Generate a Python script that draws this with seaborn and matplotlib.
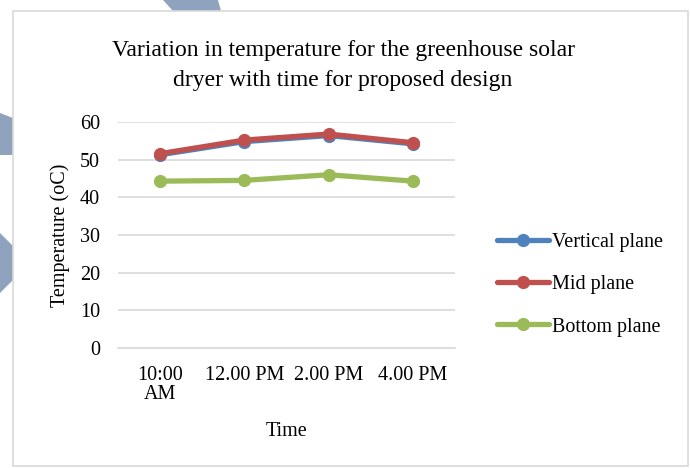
import pandas as pd
import matplotlib.pyplot as plt
import seaborn as sns
from matplotlib.patches import Polygon, Rectangle

# chart values
times = ["10:00\nAM", "12.00 PM", "2.00 PM", "4.00 PM"]
vertical = [51.3, 54.8, 56.4, 54.2]
mid = [51.6, 55.2, 56.8, 54.5]
bottom = [44.3, 44.5, 46.0, 44.3]
series = ["Vertical plane", "Mid plane", "Bottom plane"]
colors = ["#4F81BD", "#C0504D", "#9BBB59"]

df = pd.DataFrame({
    "Time": times * 3,
    "pos": list(range(len(times))) * 3,
    "Temperature": vertical + mid + bottom,
    "Series": [s for s in series for _ in times],
})

sns.set_style("white")
plt.rcParams["font.family"] = ["Liberation Serif", "DejaVu Serif"]
plt.rcParams["text.color"] = "black"
plt.rcParams["axes.labelcolor"] = "black"
plt.rcParams["xtick.color"] = "black"
plt.rcParams["ytick.color"] = "black"

fig = plt.figure(figsize=(6.9, 4.68), dpi=100)

# page decoration behind the chart
W, H = 690, 468
deco = "#8FA3BF"
for pts in ([(163, 0), (218, 0), (221, 11), (173, 11)],
            [(0, 113), (13, 118), (13, 155), (0, 155)],
            [(0, 233), (13, 246), (13, 280), (0, 293)]):
    fig.patches.append(Polygon([(x / W, 1 - y / H) for x, y in pts],
                               closed=True, transform=fig.transFigure,
                               facecolor=deco, edgecolor="none", zorder=0))
fig.patches.append(Rectangle((13 / W, 1 - 466 / H), 675 / W, 455 / H,
                             transform=fig.transFigure, facecolor="white",
                             edgecolor="#D9D9D9", linewidth=1.2, zorder=1))

ax = fig.add_axes([118 / W, 1 - 348 / H, 337 / W, 226 / H])
ax.set_zorder(2)
ax.patch.set_alpha(0)

sns.lineplot(data=df, x="pos", y="Temperature", hue="Series",
             palette=colors, marker="o", markersize=9.5, linewidth=3.8,
             markeredgewidth=0, ax=ax, legend=True)

fs = 14.5
ax.set_xlim(-0.5, 3.5)
ax.set_ylim(0, 60)
ax.set_yticks(range(0, 61, 10))
ax.set_xticks(range(len(times)))
ax.set_xticklabels(times, fontsize=fs, linespacing=1.0)
ax.tick_params(axis="y", labelsize=fs, length=0, pad=13)
ax.tick_params(axis="x", length=0, pad=13)
ax.grid(axis="y", color="#D9D9D9", linewidth=1.2)
for s in ["top", "right", "left"]:
    ax.spines[s].set_visible(False)
ax.spines["bottom"].set_color("#D9D9D9")
ax.spines["bottom"].set_linewidth(1.2)

ax.set_xlabel("Time", fontsize=fs, labelpad=13)
ax.set_ylabel("Temperature (oC)", fontsize=fs, labelpad=7)
fig.suptitle("Variation in temperature for the greenhouse solar\ndryer with time for proposed design",
             x=343 / W, y=1 - 40 / H, fontsize=17, linespacing=1.55)

handles, labels = ax.get_legend_handles_labels()
ax.legend(handles, labels, loc="center left", bbox_to_anchor=(1.07, 0.28),
          frameon=False, fontsize=fs, handlelength=2.6, handletextpad=0.15,
          labelspacing=1.15)

fig.savefig("out.png", dpi=100)
